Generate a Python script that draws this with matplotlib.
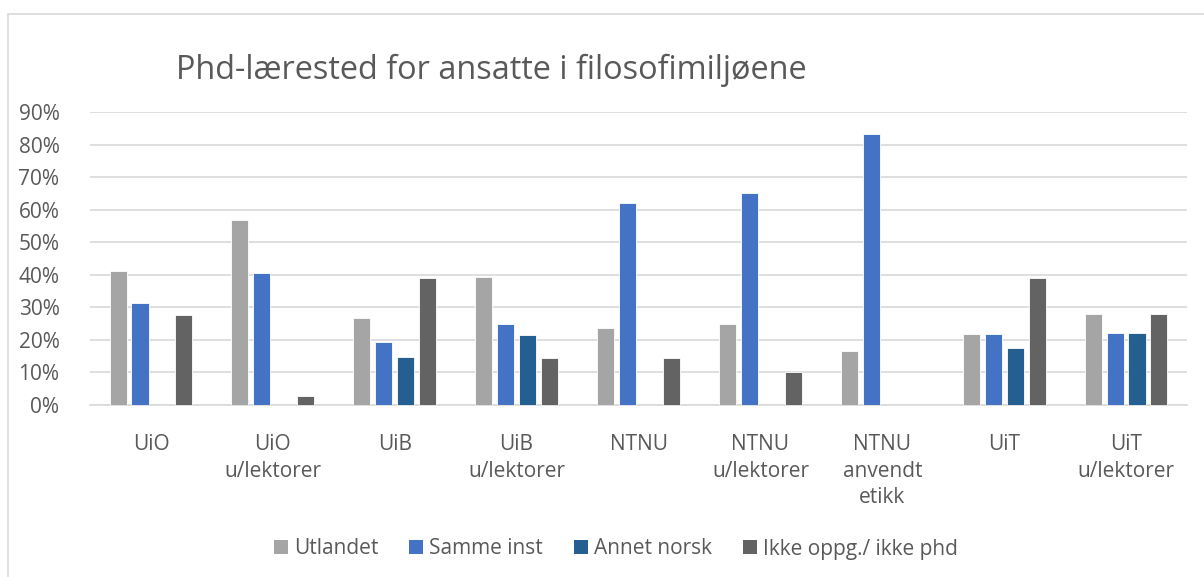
import numpy as np
import matplotlib
matplotlib.use("Agg")
from matplotlib import pyplot as plt
from matplotlib.patches import Rectangle, Patch
from matplotlib.ticker import PercentFormatter

plt.rcParams['font.family'] = ['Open Sans', 'DejaVu Sans']

categories = ["UiO", "UiO\nu/lektorer", "UiB", "UiB\nu/lektorer", "NTNU",
              "NTNU\nu/lektorer", "NTNU\nanvendt\netikk", "UiT", "UiT\nu/lektorer"]

series_names = ["Utlandet", "Samme inst", "Annet norsk", "Ikke oppg./ ikke phd"]
utlandet = [41.2, 56.8, 26.8, 39.3, 23.8, 25.0, 16.7, 21.7, 27.8]
samme_inst = [31.4, 40.5, 19.5, 25.0, 61.9, 65.0, 83.3, 21.7, 22.2]
annet_norsk = [0, 0, 14.6, 21.4, 0, 0, 0, 17.4, 22.2]
ikke_oppg = [27.5, 2.7, 39.0, 14.3, 14.3, 10.0, 0, 39.1, 27.8]

colors = ["#A5A5A5", "#4472C4", "#255E91", "#636363"]
text_col = "#595959"
grid_col = "#D9D9D9"

fig = plt.figure(figsize=(12.04, 5.77), dpi=100)

# chart border (cut off at right and bottom like the screenshot)
fig.patches.append(Rectangle((8 / 1204, -0.1), 1.2, 1 - 14 / 577 + 0.1,
                             transform=fig.transFigure, fill=False,
                             edgecolor=grid_col, linewidth=1.2))

ax = fig.add_axes([90 / 1204, 1 - 405 / 577, (1187 - 90) / 1204, (405 - 112) / 577])

x = np.arange(len(categories))
step = 0.18
width = 0.14
all_series = [utlandet, samme_inst, annet_norsk, ikke_oppg]
for i, (vals, col) in enumerate(zip(all_series, colors)):
    ax.bar(x + (i - 1.5) * step, vals, width, color=col,
           edgecolor="white", linewidth=0.6, zorder=3)

ax.set_xlim(-0.5, len(categories) - 0.5)
ax.set_ylim(0, 90)
ax.set_yticks(range(0, 91, 10))
ax.yaxis.set_major_formatter(PercentFormatter(decimals=0))
ax.grid(axis='y', color=grid_col, linewidth=1.2, zorder=0)
for s in ["top", "right", "left"]:
    ax.spines[s].set_visible(False)
ax.spines["bottom"].set_color(grid_col)
ax.spines["bottom"].set_linewidth(1.2)

ax.set_xticks(x)
ax.set_xticklabels(categories, linespacing=1.35)
ax.tick_params(axis='x', length=0, pad=21, labelsize=15, labelcolor=text_col)
ax.tick_params(axis='y', length=0, pad=22, labelsize=15, labelcolor=text_col)

fig.text(176 / 1204, 1 - 70 / 577, "Phd-lærested for ansatte i filosofimiljøene",
         fontsize=23.4, color=text_col, va='center', ha='left')

handles = [Patch(facecolor=c, edgecolor='none') for c in colors]
fig.legend(handles, series_names, loc='center', ncol=4,
           bbox_to_anchor=(616 / 1204, 1 - 549 / 577), frameon=False,
           fontsize=15, labelcolor=text_col, handlelength=0.65,
           handleheight=0.65, handletextpad=0.3, columnspacing=1.5)

fig.savefig("out.png", dpi=100)
